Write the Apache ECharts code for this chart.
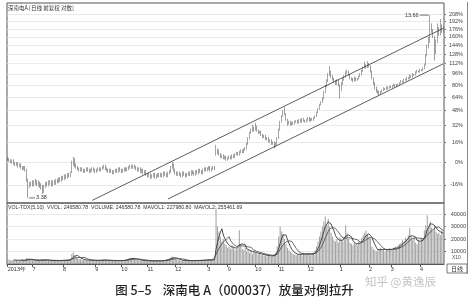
<!DOCTYPE html>
<html><head><meta charset="utf-8">
<script src="https://cdn.jsdelivr.net/npm/echarts@6/dist/echarts.min.js"></script>
<style>html,body{margin:0;padding:0;background:#fff}#c{width:469px;height:305px}</style>
</head><body><div id="c"></div>
<script>
// price values as % change vs. base (axis is logarithmic percent)
const opens = [
3,2,1,0,1,-1,-2,-1,-3,-2, -4,-5,-4,-6,-13,-17,-16,-15,-16,-14,
-15,-16,-15,-17,-18,-20,-17,-15,-16,-15, -14,-16,-14,-15,-13,-14,-12,-13,-11,-12,
-10,-11,-9,-10,-7,-2,2,-2,-4,-5, -6,-5,-6,-7,-6,-5,-6,-7,-6,-5,
-6,-7,-6,-5,-6,-5,-4,-3,-5,-6, -7,-6,-7,-8,-7,-6,-7,-5,-6,-7,
-6,-5,-6,-5,-4,-3,-4,-3,-4,-5, -6,-5,-7,-6,-8,-7,-9,-10,-9,-11,
-10,-9,-11,-10,-9,-10,-9,-10,-8,-9, -10,-8,-7,-4,-2,-6,-8,-9,-8,-9,
-10,-8,-9,-10,-9,-8,-9,-7,-8,-9, -7,-8,-6,-7,-8,-6,-5,-6,-5,-4,
-6,-5,-4,6,8,9,6,4,5,3, 4,2,3,4,3,5,4,6,7,6,
8,9,8,10,11,15,20,25,27,30, 28,31,27,25,26,23,21,22,19,20,
17,18,15,16,13,15,20,28,36,42, 47,44,38,34,36,33,35,34,36,37,
35,38,36,39,37,36,38,40,37,39, 38,40,42,46,50,55,58,62,70,78,
85,95,100,92,88,85,82,86,80,74, 82,88,92,98,100,95,90,88,86,90,
87,89,92,95,100,105,110,106,111,108, 100,90,82,76,72,70,68,71,73,75,
74,77,76,78,77,79,80,78,81,80, 83,85,84,88,87,90,89,93,91,95,
94,98,100,99,102,101,104,110,125,140, 150,180,172,160,130,150,170,165,178,170
];
const closes = [
2,1,0,1,-1,-2,-1,-3,-2,-4, -5,-4,-6,-13,-17,-16,-15,-16,-14,-15,
-16,-15,-17,-18,-20,-17,-15,-16,-15,-14, -16,-14,-15,-13,-14,-12,-13,-11,-12,-10,
-11,-9,-10,-8,-1,2,-2,-4,-5,-6, -5,-6,-7,-6,-5,-6,-7,-6,-5,-6,
-7,-6,-5,-6,-5,-4,-3,-5,-6,-7, -6,-7,-8,-7,-6,-7,-5,-6,-7,-6,
-5,-6,-5,-4,-3,-4,-3,-4,-5,-6, -5,-7,-6,-8,-7,-9,-10,-9,-11,-10,
-9,-11,-10,-9,-10,-9,-10,-8,-9,-10, -8,-7,-4,-2,-6,-8,-9,-8,-9,-10,
-8,-9,-10,-9,-8,-9,-7,-8,-9,-7, -8,-6,-7,-8,-6,-5,-6,-5,-4,-6,
-5,-4,-5,8,9,6,4,5,3,4, 2,3,4,3,5,4,6,7,6,8,
9,8,10,11,15,20,25,27,30,28, 31,27,25,26,23,21,22,19,20,17,
18,15,16,13,15,20,28,36,42,47, 44,38,34,36,33,35,34,36,37,35,
38,36,39,37,36,38,40,37,39,38, 40,42,46,50,55,58,62,70,78,85,
95,100,92,88,85,82,86,80,74,82, 88,92,98,100,95,90,88,86,90,87,
89,92,95,100,105,110,106,111,108,100, 90,82,76,72,70,68,71,73,75,74,
77,76,78,77,79,80,78,81,80,83, 85,84,88,87,90,89,93,91,95,94,
98,100,99,102,101,104,110,125,140,150, 180,172,160,130,150,170,165,178,170,174
];
const lows = [
1,0,-1,-1,-2,-3,-3,-4,-4,-5, -6,-6,-7,-14,-24,-18,-17,-17,-17,-16,
-17,-17,-18,-19,-21.5,-21,-18,-17,-17,-16, -17,-17,-16,-16,-15,-15,-14,-14,-13,-13,
-12,-12,-11,-11,-8,-3,-4,-5,-6,-7, -7,-7,-8,-8,-7,-7,-8,-8,-7,-7,
-8,-8,-7,-7,-7,-6,-5,-6,-7,-8, -8,-8,-9,-9,-8,-8,-8,-7,-8,-8,
-7,-7,-7,-6,-5,-5,-5,-5,-6,-7, -7,-8,-8,-9,-9,-10,-11,-11,-12,-12,
-11,-12,-12,-11,-11,-11,-11,-11,-10,-11, -11,-9,-8,-5,-7,-9,-10,-10,-10,-11,
-11,-10,-11,-11,-10,-10,-10,-9,-10,-10, -9,-9,-8,-9,-9,-7,-7,-7,-6,-7,
-7,-6,-6,5,6,5,3,3,2,2, 1,1,2,2,2,3,3,5,5,5,
7,7,7,9,10,14,19,24,26,26, 27,26,24,24,22,20,20,18,18,16,
16,14,14,11,12,14,19,27,35,41, 43,37,32,33,32,32,33,33,35,34,
34,35,35,36,35,35,37,36,36,37, 37,39,41,45,49,54,57,61,69,77,
84,93,90,86,83,80,80,78,62,72, 80,86,90,96,93,88,86,84,85,85,
86,88,91,94,99,104,104,105,106,98, 88,80,74,70,68,66,67,70,72,73,
73,74,75,76,76,78,77,77,79,79, 82,83,83,86,86,88,88,90,90,93,
93,97,98,98,100,100,103,109,124,138, 148,168,158,117,128,148,162,163,168,168
];
const highs = [
4,3,2,2,2,0,0,0,-1,-1, -3,-3,-3,-5,-12,-14,-14,-13,-13,-12,
-13,-13,-14,-15,-16,-16,-14,-14,-13,-13, -13,-13,-13,-12,-12,-11,-11,-10,-10,-9,
-9,-8,-8,-7,1,4,3,-1,-3,-4, -4,-4,-5,-5,-4,-4,-5,-5,-4,-4,
-5,-5,-4,-4,-4,-3,-2,-2,-4,-5, -5,-5,-6,-6,-5,-5,-4,-4,-5,-5,
-4,-4,-4,-3,-2,-2,-2,-2,-3,-4, -4,-4,-5,-5,-6,-6,-8,-8,-8,-9,
-8,-8,-9,-8,-8,-8,-8,-7,-7,-8, -7,-6,-3,0,-1,-5,-7,-7,-7,-8,
-7,-7,-8,-8,-7,-7,-6,-6,-7,-6, -6,-5,-5,-6,-5,-4,-4,-4,-3,-3,
-4,-3,-3,14,11,10,7,6,6,5, 5,4,5,5,6,6,7,8,8,9,
10,10,11,12,16,21,26,29,33,31, 35,32,28,27,27,24,23,23,21,21,
19,19,17,17,16,21,29,37,43,49, 52,45,39,37,37,36,36,37,38,38,
39,39,40,40,38,39,41,41,40,40, 41,43,47,51,56,59,64,72,80,88,
97,108,101,94,90,87,88,87,81,84, 90,94,100,103,101,96,91,90,92,91,
90,93,97,102,107,115,111,116,113,109, 101,91,84,78,74,72,72,74,77,76,
78,78,79,79,80,82,81,82,82,84, 87,86,89,89,92,91,95,94,97,96,
100,102,101,104,103,106,112,128,145,160, 207,188,176,162,155,188,180,198,186,182
];
const volumes = [
4000,3500,3000,3200,2800,3000,3300,2900,3100,2700, 3000,2800,3200,5000,4500,3500,3000,2800,3200,2600,
2800,3000,2700,3400,3800,3600,3000,2800,2900,2700, 2600,2800,2500,2900,2700,3000,2800,3100,2900,3300,
3000,3400,3200,3600,8000,9500,7000,5500,4500,4000, 3800,3500,3300,3000,3200,2900,3100,2800,3000,2700,
2900,2800,3100,2700,3000,3300,3600,3000,2800,2600, 2800,2700,2500,2900,2600,2800,3000,2700,2600,2800,
3200,3500,4000,4500,5000,4200,4800,3800,3500,3200, 3000,2800,2900,2700,2600,2800,2500,2700,2400,2600,
2500,2700,2400,2600,2800,2500,2700,3000,3300,3600, 4000,4500,5500,6000,5000,4200,3600,3200,3000,2800,
2700,2900,2600,2800,2500,2700,2900,2600,2800,2700, 2900,3100,2800,3000,3200,3400,3100,3300,3600,3200,
3400,3800,3500,45000,30000,26000,22000,18000,20000,16000, 15000,13000,14000,12000,15000,13000,11000,12000,14000,27000,
15000,12000,11000,13000,10000,12000,9000,11000,8000,10000, 9000,8500,7500,9000,7000,8000,6500,7500,6000,7000,
6500,6000,7000,8000,9000,14000,22000,30000,26000,24000, 20000,16000,13000,11000,10000,9000,8000,7500,7000,8000,
7500,8500,7000,9000,8000,7500,9000,8000,7000,8500, 9000,11000,14000,18000,22000,26000,30000,34000,38000,31000,
36000,30000,25000,22000,19000,18000,20000,17000,21000,19000, 18000,22000,31000,25000,20000,17000,16000,15000,17000,16000,
15000,18000,17000,21000,23000,25000,27000,24000,22000,20000, 14000,12000,11000,10000,11000,12000,13000,11000,12000,10000,
12000,11000,13000,12000,11000,13000,14000,12000,15000,16000, 17000,19000,18000,21000,20000,23000,29000,22000,19000,21000,
17000,16000,19000,18000,21000,20000,27000,31000,39000,30000, 34000,29000,27000,31000,26000,24000,25000,23000,27000,24000
];
const xLabelIdx  = [0,17,38,60,78,96,115,137,151,170,186,206,228,248,263,283];
const xLabelText = ['2013年','7','8','9','10','11','12','3','9','10','11','12','1','2','3','4'];
const pctTicks = [-16,0,16,32,48,64,80,96,112,128,144,160,176,192,208];
const volTicks = [10000,20000,30000,40000];
const upperChannel = [[58,-25.4],[299,177.5]];
const lowerChannel = [[110,-24.6],[299,111.6]];
const lowMark = {idx:14, text:'3.38'};
const highMark = {idx:290, text:'13.66'};
const priceTitle = '深南电A [日线 前复权 对数]';
const volTitle = 'VOL-TDX(5,10)  VVOL: 246580.78  VOLUME: 246580.78  MAVOL1: 227980.80  MAVOL2: 255461.69';
const caption = '图 5–5    深南电 A（000037）放量对倒拉升';
const watermark = '知乎 @黄逸辰';

const L = p => Math.log(1 + p / 100);
const cat = closes.map((_, i) => String(i));
const candle = closes.map((c, i) => [L(opens[i]), L(c), L(lows[i]), L(highs[i])]);
function ma(n) {
  return volumes.map((v, i) => {
    if (i < n - 1) return '-';
    let s = 0; for (let k = i - n + 1; k <= i; k++) s += volumes[k];
    return s / n;
  });
}
const labelMap = new Map(xLabelIdx.map((v, k) => [v, xLabelText[k]]));
const F = 'Liberation Sans, Arial, sans-serif';

const chart = echarts.init(document.getElementById('c'), null, {renderer: 'canvas'});
chart.setOption({
  animation: false,
  backgroundColor: '#fff',
  grid: [
    {left: 7, right: 25, top: 3, height: 200, show: true, borderColor: '#555', borderWidth: 1, backgroundColor: 'transparent'},
    {left: 7, right: 25, top: 203, height: 61, show: true, borderColor: '#555', borderWidth: 1, backgroundColor: 'transparent'}
  ],
  xAxis: [
    {type: 'category', data: cat, gridIndex: 0, axisLine: {show: false}, axisTick: {show: false}, axisLabel: {show: false}, splitLine: {show: false}},
    {type: 'category', data: cat, gridIndex: 1,
      axisLine: {lineStyle: {color: '#555', width: 1}},
      axisTick: {show: true, alignWithLabel: true, interval: (i) => labelMap.has(i), length: 3, lineStyle: {color: '#555'}},
      axisLabel: {interval: (i) => labelMap.has(i), formatter: (v, i) => labelMap.get(i) || '', fontSize: 5.5, fontFamily: F, color: '#333', align: 'left', margin: 2},
      splitLine: {show: false}}
  ],
  yAxis: [
    {type: 'value', gridIndex: 0, position: 'right', min: (162 - 203) / 131, max: (162 - 3) / 131,
      axisLine: {show: false},
      axisTick: {show: true, customValues: pctTicks.map(L), length: 2, lineStyle: {color: '#777'}},
      axisLabel: {customValues: pctTicks.map(L), formatter: (v) => Math.round((Math.exp(v) - 1) * 100) + '%', fontSize: 5.5, fontFamily: F, color: '#444', align: 'right', margin: 19},
      splitLine: {show: true, lineStyle: {color: '#e4e4e4', width: 0.8}}},
    {type: 'value', gridIndex: 1, position: 'right', min: 0, max: 48800,
      axisLine: {show: false},
      axisTick: {show: true, customValues: volTicks, length: 2, lineStyle: {color: '#777'}},
      axisLabel: {customValues: volTicks, formatter: (v) => String(v), fontSize: 5.5, fontFamily: F, color: '#444', align: 'right', margin: 22},
      splitLine: {show: true, lineStyle: {color: '#e4e4e4', width: 0.8}}}
  ],
  series: [
    {type: 'candlestick', xAxisIndex: 0, yAxisIndex: 0, data: candle, barMaxWidth: 0.9,
      itemStyle: {color: '#fff', color0: '#6a6a6a', borderColor: '#6a6a6a', borderColor0: '#5a5a5a', borderWidth: 0.6},
      markPoint: {
        symbol: 'rect', animation: false,
        data: [
          {coord: [highMark.idx, L(highs[highMark.idx])], symbolSize: [9, 0.7], symbolOffset: [-6, 0], itemStyle: {color: '#333'},
            label: {show: true, position: 'left', distance: 1, formatter: highMark.text, fontSize: 5.5, fontFamily: F, color: '#333'}},
          {coord: [lowMark.idx, L(lows[lowMark.idx])], symbolSize: [6, 0.7], symbolOffset: [4, 0], itemStyle: {color: '#333'},
            label: {show: true, position: 'right', distance: 1, formatter: lowMark.text, fontSize: 5.5, fontFamily: F, color: '#333'}}
        ]
      }},
    {type: 'line', xAxisIndex: 0, yAxisIndex: 0, data: upperChannel.map(d => [d[0], L(d[1])]), symbol: 'none', lineStyle: {color: '#333', width: 0.8}, silent: true},
    {type: 'line', xAxisIndex: 0, yAxisIndex: 0, data: lowerChannel.map(d => [d[0], L(d[1])]), symbol: 'none', lineStyle: {color: '#333', width: 0.8}, silent: true},
    {type: 'bar', xAxisIndex: 1, yAxisIndex: 1, data: volumes, barWidth: '50%', itemStyle: {color: '#a0a0a0'}},
    {type: 'line', xAxisIndex: 1, yAxisIndex: 1, data: ma(5), symbol: 'none', lineStyle: {color: '#222', width: 0.8}},
    {type: 'line', xAxisIndex: 1, yAxisIndex: 1, data: ma(10), symbol: 'none', lineStyle: {color: '#444', width: 0.8}}
  ],
  graphic: [
    {type: 'text', left: 8, top: 5, style: {text: priceTitle, fontSize: 5.5, fontFamily: 'Noto Sans CJK SC', fill: '#333'}},
    {type: 'text', left: 8, top: 205, style: {text: volTitle, fontSize: 5.2, fontFamily: F, fill: '#333'}},
    {type: 'text', left: 452, top: 255, style: {text: 'X10', fontSize: 5, fontFamily: F, fill: '#555'}},
    {type: 'rect', shape: {x: 447, y: 264, width: 20, height: 9}, style: {fill: '#fff', stroke: '#555', lineWidth: 0.8}},
    {type: 'text', left: 451, top: 265.5, style: {text: '日线', fontSize: 6, fontFamily: 'Noto Sans CJK SC', fill: '#333'}},
    {type: 'line', shape: {x1: 467.5, y1: 2, x2: 467.5, y2: 274}, style: {stroke: '#888', lineWidth: 1}},
    {type: 'text', left: 'center', top: 284, style: {text: caption, fontSize: 12.5, fontWeight: 500, fontFamily: 'Noto Sans CJK SC', fill: '#222'}},
    {type: 'text', left: 365, top: 276, style: {text: watermark, fontSize: 11.5, fontFamily: 'Noto Sans CJK SC', fill: '#c4c4c4'}}
  ]
});
</script></body></html>
